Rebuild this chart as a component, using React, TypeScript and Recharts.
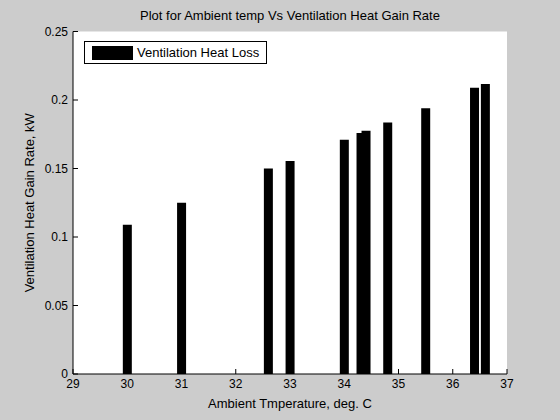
import React from 'react';
import { ComposedChart, Bar, XAxis, YAxis, CartesianGrid, Legend } from 'recharts';

// ambient temperature (deg C) and ventilation heat gain (kW)
const temps = [30, 31, 32.6, 33, 34, 34.3, 34.4, 34.8, 35.5, 36.4, 36.6];
const gain = [0.109, 0.125, 0.15, 0.1555, 0.171, 0.176, 0.1775, 0.1835, 0.194, 0.209, 0.2117];
const xTicks = [29, 30, 31, 32, 33, 34, 35, 36, 37];
const yTicks = [0, 0.05, 0.1, 0.15, 0.2, 0.25];
const seriesName = 'Ventilation Heat Loss';

// the 34.3 bar overlaps its neighbour; it sits on its own hidden x axis so
// recharts doesn't shrink every bar to fit the 0.1 gap
const overlapTemp = 34.3;

const FONT = '"Liberation Sans", Arial, sans-serif';
const BG = '#cccccc';

const data = temps.map((t, i) =>
  t === overlapTemp ? { tempB: t, gainB: gain[i] } : { temp: t, gain: gain[i] }
);

const fmtY = (v: number) => String(v);
const blank = () => '';

function LegendBox() {
  return (
    <div
      style={{
        display: 'flex',
        alignItems: 'center',
        background: '#fff',
        border: '1px solid #000',
        width: 183,
        height: 23,
        boxSizing: 'border-box',
        fontFamily: FONT,
        fontSize: 13,
        color: '#000',
        whiteSpace: 'nowrap',
      }}
    >
      <span style={{ display: 'inline-block', width: 41, height: 14, background: '#000', marginLeft: 7, marginRight: 4 }} />
      <span>{seriesName}</span>
    </div>
  );
}

export default function App() {
  return (
    <div style={{ position: 'absolute', left: 0, top: 0, width: 560, height: 420, background: BG, fontFamily: FONT }}>
      <div
        style={{
          position: 'absolute',
          top: 8,
          left: 73,
          width: 434,
          textAlign: 'center',
          fontSize: 13,
          color: '#000',
        }}
      >
        Plot for Ambient temp Vs Ventilation Heat Gain Rate
      </div>
      <ComposedChart
        width={560}
        height={420}
        data={data}
        margin={{ top: 31.5, right: 53, bottom: 16, left: 13 }}
        style={{ position: 'absolute', left: 0, top: 0 }}
      >
        <CartesianGrid fill="#fff" horizontal={false} vertical={false} />
        <XAxis
          dataKey="temp"
          type="number"
          domain={[29, 37]}
          ticks={xTicks}
          height={30}
          axisLine={{ stroke: '#000' }}
          tickLine={{ stroke: '#000' }}
          tickSize={-5}
          tickMargin={10}
          tick={{ fill: '#000', fontSize: 12, fontFamily: FONT }}
          interval={0}
          label={{ value: 'Ambient Tmperature, deg. C', position: 'insideBottom', offset: -4, fill: '#000', fontSize: 13, fontFamily: FONT }}
        />
        <XAxis xAxisId="b" dataKey="tempB" type="number" domain={[29, 37]} hide />
        <XAxis
          xAxisId="top"
          orientation="top"
          type="number"
          domain={[29, 37]}
          ticks={xTicks}
          height={0}
          axisLine={{ stroke: '#000' }}
          tickLine={{ stroke: '#000' }}
          tickSize={-5}
          tickFormatter={blank}
          interval={0}
        />
        <YAxis
          type="number"
          domain={[0, 0.25]}
          ticks={yTicks}
          width={60}
          axisLine={{ stroke: '#000' }}
          tickLine={{ stroke: '#000' }}
          tickSize={-5}
          tickMargin={10}
          tickFormatter={fmtY}
          tick={{ fill: '#000', fontSize: 12, fontFamily: FONT }}
          interval={0}
          label={{ value: 'Ventilation Heat Gain Rate, kW', angle: -90, position: 'insideLeft', offset: 16, style: { textAnchor: 'middle' }, fill: '#000', fontSize: 13, fontFamily: FONT }}
        />
        <YAxis
          yAxisId="right"
          orientation="right"
          type="number"
          domain={[0, 0.25]}
          ticks={yTicks}
          width={0}
          axisLine={{ stroke: '#000' }}
          tickLine={{ stroke: '#000' }}
          tickSize={-5}
          tickFormatter={blank}
          interval={0}
        />
        <Legend
          layout="horizontal"
          verticalAlign="middle"
          align="center"
          content={() => <LegendBox />}
          wrapperStyle={{ top: 41, left: 84, width: 'auto' }}
        />
        <Bar dataKey="gain" name={seriesName} fill="#000" barSize={9} isAnimationActive={false} />
        <Bar dataKey="gainB" xAxisId="b" name={seriesName} fill="#000" barSize={9} isAnimationActive={false} />
      </ComposedChart>
    </div>
  );
}
